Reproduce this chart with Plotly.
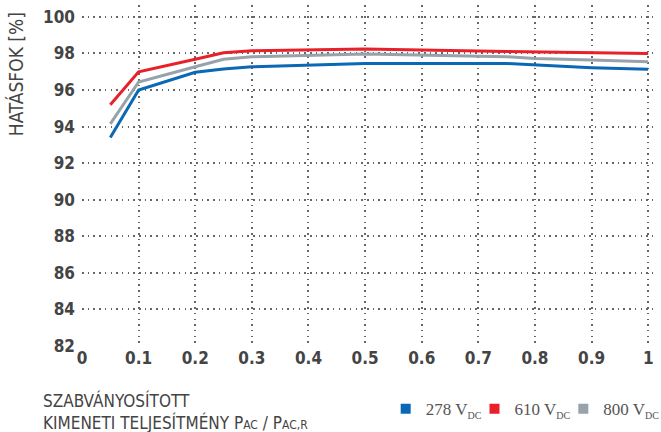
import plotly.graph_objects as go

x_vals = [0.05, 0.1, 0.2, 0.25, 0.3, 0.5, 0.75, 0.8, 0.9, 1.0]
eff_278 = [93.4, 96.0, 96.97, 97.15, 97.27, 97.45, 97.45, 97.37, 97.22, 97.13]
eff_610 = [95.2, 97.0, 97.68, 98.04, 98.15, 98.24, 98.11, 98.09, 98.04, 98.0]
eff_800 = [94.15, 96.44, 97.27, 97.68, 97.82, 97.97, 97.82, 97.73, 97.64, 97.55]
series_names = ["278 V<sub><span style='font-size:10px'>DC</span></sub>",
                "610 V<sub><span style='font-size:10px'>DC</span></sub>",
                "800 V<sub><span style='font-size:10px'>DC</span></sub>"]
colors = ["#0a68b4", "#e8202a", "#97a2aa"]
x_ticks = [0, 0.1, 0.2, 0.3, 0.4, 0.5, 0.6, 0.7, 0.8, 0.9, 1.0]
x_ticktext = ["0", "0.1", "0.2", "0.3", "0.4", "0.5", "0.6", "0.7", "0.8", "0.9", "1"]
y_ticks = [82, 84, 86, 88, 90, 92, 94, 96, 98, 100]

COND = "Liberation Sans Narrow, DejaVu Sans Condensed, Arial Narrow, sans-serif"
legend_ids = ["legend", "legend2", "legend3"]
legend_x = [0.530, 0.685, 0.840]

fig = go.Figure()
for name, ys, c in zip(series_names, [eff_278, eff_610, eff_800], colors):
    fig.add_trace(go.Scatter(x=x_vals, y=ys, mode="lines", line=dict(color=c, width=3),
                             showlegend=False, hoverinfo="skip"))
for name, c, lid in zip(series_names, colors, legend_ids):
    fig.add_trace(go.Scatter(x=[None], y=[None], mode="markers", name=name, legend=lid,
                             marker=dict(symbol="square", size=10, color=c)))

grid = dict(showgrid=True, gridcolor="#666", griddash="1.5px,4.2px", gridwidth=1.6, zeroline=False,
            showline=False, ticks="")
fig.update_xaxes(range=[0, 1.012], tickvals=x_ticks, ticktext=x_ticktext,
                 tickfont=dict(family="DejaVu Sans Condensed", size=17, color="#444", weight="bold"),
                 **grid)
fig.update_yaxes(range=[82, 100.65], tickvals=y_ticks,
                 tickfont=dict(family="DejaVu Sans Condensed", size=17, color="#444", weight="bold"),
                 ticklabelstandoff=6, **grid)

fig.add_annotation(xref="paper", yref="paper", x=-0.115, y=0.985, xanchor="center", yanchor="top",
                   text="HATÁSFOK [%]", textangle=-90, showarrow=False,
                   font=dict(family=COND, size=19, color="#444"))
fig.add_annotation(xref="paper", yref="paper", x=-0.072, y=-0.124, xanchor="left", yanchor="top",
                   align="left", showarrow=False,
                   text="SZABVÁNYOSÍTOTT<br>KIMENETI TELJESÍTMÉNY P<span style='font-size:12px'>AC</span> / P<span style='font-size:12px'>AC,R</span>",
                   font=dict(family=COND, size=17, color="#444"))

legend_style = dict(orientation="h", y=-0.185, yanchor="middle", xanchor="left",
                    font=dict(family="Liberation Serif, DejaVu Serif, serif", size=17, color="#555"),
                    itemwidth=30, bgcolor="rgba(0,0,0,0)")
fig.update_layout(
    width=661, height=432,
    margin=dict(l=82, r=6, t=5, b=86, autoexpand=False),
    plot_bgcolor="white", paper_bgcolor="white",
    legend=dict(x=legend_x[0], **legend_style),
    legend2=dict(x=legend_x[1], **legend_style),
    legend3=dict(x=legend_x[2], **legend_style),
)
fig.write_html("out.html", config={"displayModeBar": False},
               post_script="document.body.style.margin='0';document.body.style.overflow='hidden';")
